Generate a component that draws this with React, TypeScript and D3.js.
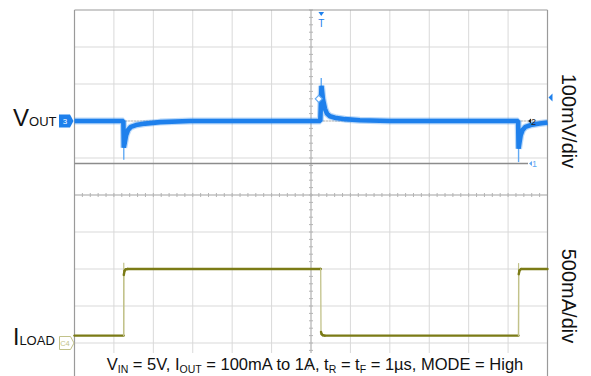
import React from "react";
import * as d3 from "d3";

// Screen: 12 horizontal divisions, 10 vertical divisions
const TIME_RANGE_US = [-600, 600];
const DIV_RANGE = [-5, 5];

// Channel settings
const VOUT_POSITION_DIV = 2;
const VOUT_MV_PER_DIV = 100;
const ILOAD_POSITION_DIV = -4;
const ILOAD_MA_PER_DIV = 500;

// VOUT (AC deviation, mV)
const VOUT_T_US = [-600, -476, -475, -472.4, -469, -464, -457, -444, -421, -383, -307,
  23.6, 26.6, 30.4, 35.5, 40.6, 48, 61, 86, 124, 200,
  525.5, 526.6, 529, 532, 537, 544, 557, 580, 600];
const VOUT_MV = [0, 0, -72, -58, -38, -24, -16, -11, -7, -3, 0,
  0, 95, 58, 33, 20, 13, 9, 5, 2, 0,
  0, -75, -58, -38, -24, -16, -11, -7, -4];

// Fast VOUT excursions at the load steps (mV)
const VOUT_PEAK_T_US = [-475, 26, 526.6];
const VOUT_PEAK_MV = [-105, 116, -111];

// ILOAD (mA)
const ILOAD_T_US = [-600, -475.4, -475, -473, -470, -465, 24.1, 24.6, 25.4, 27, 30, 35,
  526.3, 527, 529, 533, 600];
const ILOAD_MA = [100, 100, 920, 975, 995, 1000, 1000, 1000, 150, 120, 105, 100,
  100, 930, 980, 1000, 1000];
const ILOAD_PEAK_T_US = [-475, 526.6];
const ILOAD_PEAK_MA = [1085, 1080];

const TRIGGER_T_US = 26;
const VOUT_SCALE_LABEL = "100mV/div";
const ILOAD_SCALE_LABEL = "500mA/div";

const FONT = "'Liberation Sans', Arial, Helvetica, sans-serif";
const BLUE = "#1e80ec";
const BLUE_LIGHT = "#62aaf4";
const OLIVE = "#7b7b16";
const OLIVE_LIGHT = "#c2c28a";

export default function App() {
  const W = 591;
  const H = 376;
  const x = d3.scaleLinear().domain(TIME_RANGE_US).range([74.5, 547.5]);
  const yDiv = d3.scaleLinear().domain(DIV_RANGE).range([380, 10]);
  const yV = (mv: number) => yDiv(VOUT_POSITION_DIV + mv / VOUT_MV_PER_DIV);
  const yI = (ma: number) => yDiv(ILOAD_POSITION_DIV + ma / ILOAD_MA_PER_DIV);

  const xDivs = d3.range(0, 13).map((i) => x(TIME_RANGE_US[0] + i * 100));
  const yDivs = d3.range(0, 11).map((i) => yDiv(DIV_RANGE[0] + i));
  const xMinor = d3.range(0, 61).map((i) => x(TIME_RANGE_US[0] + i * 20));
  const yMinor = d3.range(0, 51).map((i) => yDiv(DIV_RANGE[0] + i * 0.2));
  const xc = x(0);
  const yc = yDiv(0);

  const voutPts = VOUT_T_US.map((t, i) => [x(t), yV(VOUT_MV[i])] as [number, number]);
  const voutPath = d3.line().curve(d3.curveLinear)(voutPts) || "";

  const iPts = ILOAD_T_US.map((t, i) => [x(t), yI(ILOAD_MA[i])] as [number, number]);
  const iSegs = iPts.slice(1).map((p, i) => {
    const a = iPts[i];
    const steep = Math.abs(p[0] - a[0]) < 1.5 && Math.abs(p[1] - a[1]) > 10;
    return { a, b: p, steep };
  });

  const left = x(TIME_RANGE_US[0]);
  const right = x(TIME_RANGE_US[1]);
  const top = yDiv(DIV_RANGE[1]);
  const tx = x(TRIGGER_T_US);

  return (
    <svg width={W} height={H} style={{ position: "absolute", left: 0, top: 0, background: "#fff" }}
      fontFamily={FONT}>
      <rect x={0} y={0} width={W} height={H} fill="#fff" />
      {/* graticule */}
      <g stroke="#d9d9d9" strokeWidth={1}>
        {xDivs.slice(1, -1).map((v, i) => (
          <line key={"gx" + i} x1={v} x2={v} y1={top} y2={H} />
        ))}
        {yDivs.slice(0, -1).map((v, i) => (
          <line key={"gy" + i} x1={left} x2={right} y1={v} y2={v} />
        ))}
      </g>
      <g stroke="#b4b4b4" strokeWidth={1}>
        <line x1={xc} x2={xc} y1={top} y2={H} />
        <line x1={left} x2={right} y1={yc} y2={yc} />
        {xMinor.map((v, i) => (
          <line key={"mx" + i} x1={v} x2={v} y1={yc - 2} y2={yc + 2} />
        ))}
        {yMinor.map((v, i) => (
          <line key={"my" + i} x1={xc - 2} x2={xc + 2} y1={v} y2={v} />
        ))}
      </g>
      {/* frame */}
      <g stroke="#9a9a9a" strokeWidth={1.2} fill="none">
        <line x1={left} x2={left} y1={top} y2={H} />
        <line x1={right} x2={right} y1={top} y2={H} />
        <line x1={left} x2={right} y1={top} y2={top} />
      </g>

      {/* reference lines */}
      <line x1={left} x2={528} y1={yV(0)} y2={yV(0)} stroke="#9a9a9a" strokeWidth={1} strokeDasharray="1,2" />
      <line x1={left} x2={528} y1={163.5} y2={163.5} stroke="#8c8c8c" strokeWidth={1.5} />

      {/* VOUT trace */}
      {VOUT_PEAK_T_US.map((t, i) => (
        <line key={"vp" + i} x1={x(t)} x2={x(t)} y1={yV(0)} y2={yV(VOUT_PEAK_MV[i])}
          stroke={BLUE_LIGHT} strokeWidth={1.4} />
      ))}
      <path d={voutPath} fill="none" stroke={BLUE} strokeOpacity={0.3} strokeWidth={7} strokeLinejoin="bevel" />
      <path d={voutPath} fill="none" stroke={BLUE} strokeWidth={4.6} strokeLinejoin="bevel" />
      <path d={`M${tx - 6},${yV(60)} l3.5,-3.5 l3.5,3.5 l-3.5,3.5 z`} fill="#fff" stroke={BLUE_LIGHT} strokeWidth={1.2} />

      {/* ILOAD trace */}
      {ILOAD_PEAK_T_US.map((t, i) => (
        <line key={"ip" + i} x1={x(t)} x2={x(t)} y1={yI(100)} y2={yI(ILOAD_PEAK_MA[i])}
          stroke={OLIVE_LIGHT} strokeWidth={1.2} />
      ))}
      {iSegs.map((s, i) => (
        <line key={"is" + i} x1={s.a[0]} y1={s.a[1]} x2={s.b[0]} y2={s.b[1]}
          stroke={s.steep ? OLIVE_LIGHT : OLIVE} strokeWidth={s.steep ? 1.3 : 2.4}
          strokeLinecap="round" />
      ))}

      {/* trigger marker */}
      <path d={`M${tx - 2.8},12 h5.6 l-2.8,4 z`} fill={BLUE} />
      <text x={tx} y={27} fontSize={10} fill={BLUE} textAnchor="middle">T</text>

      {/* right-edge markers */}
      <path d={`M${right + 1},97.5 l4,-4 v8 z`} fill={BLUE} />
      <path d={`M528,${yV(0)} l3,-2.5 v5 z`} fill="#222" />
      <text x={531} y={yV(0) + 3.5} fontSize={9} fill="#222">2</text>
      <path d={`M529,163.5 l3,-2.5 v5 z`} fill={BLUE_LIGHT} />
      <text x={532} y={167} fontSize={9} fill={BLUE_LIGHT}>1</text>

      {/* channel labels */}
      <text x={13} y={125.5} fill="#111">
        <tspan fontSize={24}>V</tspan>
        <tspan fontSize={13}>OUT</tspan>
      </text>
      <path d={`M59,${yV(0) - 6.5} h11 l3.5,6.5 l-3.5,6.5 h-11 z`} fill={BLUE} />
      <text x={65} y={yV(0) + 3} fontSize={8} fill="#fff" textAnchor="middle">3</text>

      <text x={13} y={345} fill="#111">
        <tspan fontSize={23}>I</tspan>
        <tspan fontSize={13}>LOAD</tspan>
      </text>
      <path d={`M59.5,${yI(0) - 6.5} h11 l3.5,6.5 l-3.5,6.5 h-11 z`} fill="#fff" stroke={OLIVE_LIGHT} strokeWidth={1} />
      <text x={65} y={yI(0) + 3} fontSize={7.5} fill={OLIVE_LIGHT} textAnchor="middle">C4</text>

      {/* volts/div labels */}
      <text transform={`translate(562,${yV(0)}) rotate(90)`} fontSize={20} textAnchor="middle" fill="#111">
        {VOUT_SCALE_LABEL}
      </text>
      <text transform={`translate(562,296) rotate(90)`} fontSize={20} textAnchor="middle" fill="#111">
        {ILOAD_SCALE_LABEL}
      </text>

      {/* conditions */}
      <rect x={90} y={353} width={452} height={23} fill="#fff" />
      <path d={`M${xc - 3.5},370 L${xc},362 L${xc + 3.5},370`} fill="none" stroke="#a8a8a8" strokeWidth={1} />
      <text x={315} y={370} fontSize={16.5} textAnchor="middle" fill="#111">
        V<tspan fontSize={10.5} dy={3}>IN</tspan>
        <tspan dy={-3}> = 5V, I</tspan>
        <tspan fontSize={10.5} dy={3}>OUT</tspan>
        <tspan dy={-3}> = 100mA to 1A, t</tspan>
        <tspan fontSize={10.5} dy={3}>R</tspan>
        <tspan dy={-3}> = t</tspan>
        <tspan fontSize={10.5} dy={3}>F</tspan>
        <tspan dy={-3}> = 1µs, MODE = High</tspan>
      </text>
    </svg>
  );
}
